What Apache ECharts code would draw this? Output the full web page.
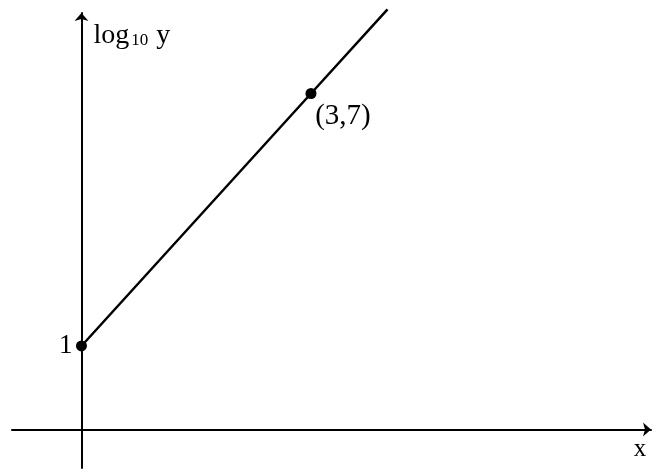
<!DOCTYPE html>
<html>
<head>
<meta charset="utf-8">
<script src="https://cdn.jsdelivr.net/npm/echarts@6/dist/echarts.min.js"></script>
<style>html,body{margin:0;padding:0;background:#fff}#c{width:664px;height:470px}</style>
</head>
<body>
<div id="c"></div>
<script>
// Data
const xValues = [0, 3, 4];
const yValues = [1, 7, 9];
const pointLabels = ['', '(3,7)', ''];
const pointDots = [true, true, false];
const yTickLabels = [1];
const xName = 'x';
const yNameParts = ['log', '10', ' y'];

const serif = '"Liberation Serif", "Times New Roman", serif';
const chart = echarts.init(document.getElementById('c'));

const seriesData = xValues.map((x, i) => ({
  value: [x, yValues[i]],
  symbol: pointDots[i] ? 'circle' : 'none',
  label: pointLabels[i] ? { show: true, formatter: pointLabels[i] } : { show: false }
}));

chart.setOption({
  backgroundColor: '#fff',
  animation: false,
  grid: { left: 12, right: 13, top: 13, bottom: 2, containLabel: false, outerBoundsMode: 'none' },
  xAxis: {
    type: 'value', min: -0.908, max: 7.444,
    offset: -38.5,
    axisLine: { show: true, onZero: false, symbol: ['none', 'arrow'], symbolSize: [10.5, 8],
      lineStyle: { color: '#000', width: 2 } },
    axisTick: { show: false }, axisLabel: { show: false }, splitLine: { show: false },
    name: xName, nameLocation: 'end', nameGap: -11,
    nameTextStyle: { fontFamily: serif, fontSize: 25, color: '#000', align: 'center',
      verticalAlign: 'top', lineHeight: 25, padding: [7, 0, 0, 0] }
  },
  yAxis: {
    type: 'value', min: -1.9, max: 8.913,
    axisLine: { show: true, onZero: true, symbol: ['none', 'arrow'], symbolSize: [10.5, 8],
      lineStyle: { color: '#000', width: 2 } },
    axisTick: { show: false }, splitLine: { show: false },
    axisLabel: { show: true, customValues: yTickLabels, margin: -60.5,
      fontFamily: serif, fontSize: 27, color: '#000' },
    name: '{a|' + yNameParts[0] + '}{b|' + yNameParts[1] + '}{a|' + yNameParts[2] + '}',
    nameLocation: 'end', nameGap: -6.5,
    nameTextStyle: {
      align: 'left', verticalAlign: 'top', padding: [0, 0, 0, 12],
      fontFamily: serif, fontSize: 28, color: '#000',
      rich: {
        a: { fontFamily: serif, fontSize: 28, lineHeight: 30, color: '#000', verticalAlign: 'bottom' },
        b: { fontFamily: serif, fontSize: 17, lineHeight: 14, color: '#000', verticalAlign: 'bottom', padding: [0, 1, 0, 2] }
      }
    }
  },
  series: [{
    type: 'line',
    data: seriesData,
    clip: false,
    symbolSize: 11,
    showAllSymbol: true,
    itemStyle: { color: '#000' },
    lineStyle: { color: '#000', width: 2.5 },
    label: { position: 'inside', offset: [32, 23], fontFamily: serif, fontSize: 29, color: '#000' },
    emphasis: { disabled: true }
  }]
});
</script>
</body>
</html>
